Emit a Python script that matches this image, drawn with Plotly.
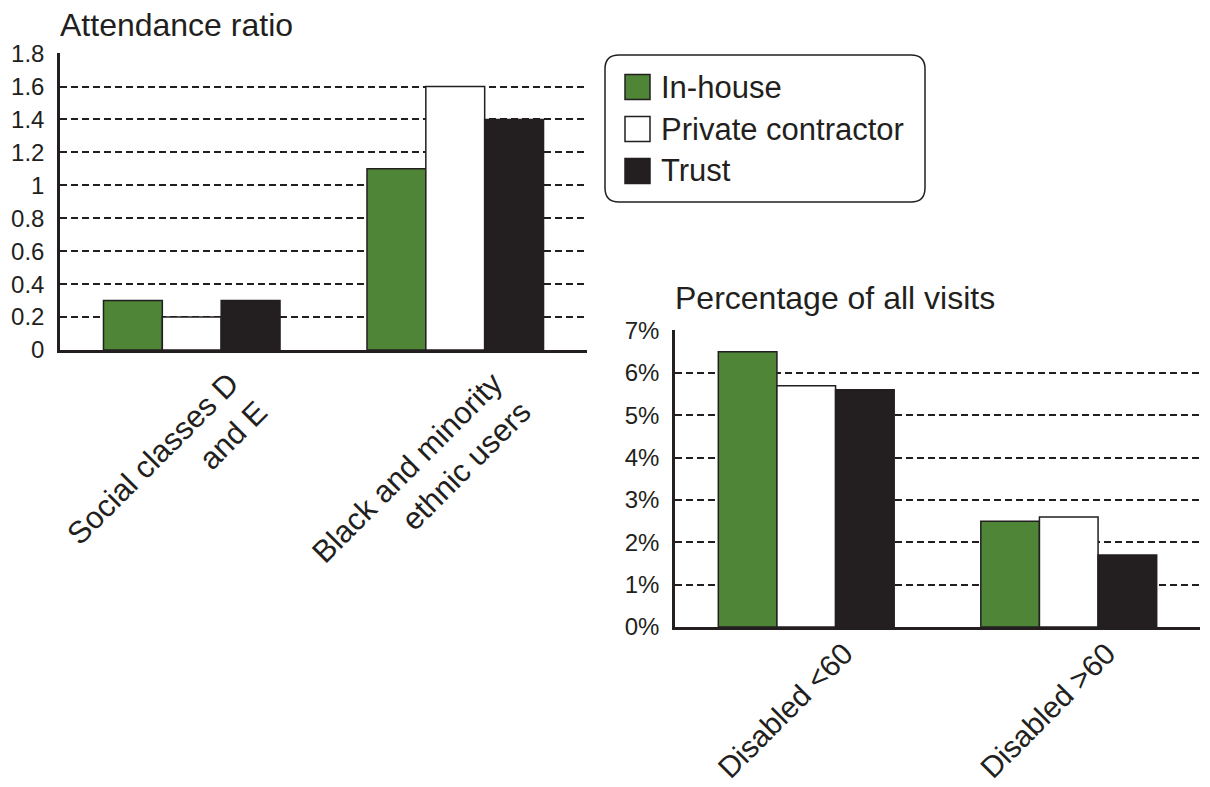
import plotly.graph_objects as go

W, H = 1210, 787

# ---- data ----
ratio_categories = ["Social classes D<br>and E", "Black and minority<br>ethnic users"]
visit_categories = ["Disabled <60", "Disabled >60"]
series_names = ["In-house", "Private contractor", "Trust"]

ratio_inhouse = [0.3, 1.1]
ratio_private = [0.2, 1.6]
ratio_trust = [0.3, 1.4]

visits_inhouse = [6.5, 2.5]
visits_private = [5.7, 2.6]
visits_trust = [5.6, 1.7]

ratio_tickvals = [0, 0.2, 0.4, 0.6, 0.8, 1.0, 1.2, 1.4, 1.6, 1.8]
ratio_ticktext = ["0", "0.2", "0.4", "0.6", "0.8", "1", "1.2", "1.4", "1.6", "1.8"]
visit_tickvals = [0, 1, 2, 3, 4, 5, 6, 7]
visit_ticktext = ["0%", "1%", "2%", "3%", "4%", "5%", "6%", "7%"]

# ---- style ----
INK = "#231f20"
FILLS = ["#4e8536", "#ffffff", INK]
FONT = "Liberation Sans"


def px_x(x):
    return x / W


def px_y(y):
    return 1 - y / H


fig = go.Figure()

ratio_series = [ratio_inhouse, ratio_private, ratio_trust]
visit_series = [visits_inhouse, visits_private, visits_trust]

for name, vals, fill in zip(series_names, ratio_series, FILLS):
    fig.add_trace(go.Bar(
        x=ratio_categories, y=vals, name=name, xaxis="x", yaxis="y",
        marker=dict(color=fill, line=dict(color=INK, width=1.5)),
        showlegend=False,
    ))

for name, vals, fill in zip(series_names, visit_series, FILLS):
    fig.add_trace(go.Bar(
        x=visit_categories, y=vals, name=name, xaxis="x2", yaxis="y2",
        marker=dict(color=fill, line=dict(color=INK, width=1.5)),
        showlegend=False,
    ))

grid_style = dict(showgrid=True, gridcolor=INK, gridwidth=1.5, griddash="7px,4px",
                  zeroline=False, showline=True, linecolor=INK, linewidth=2.5,
                  ticks="", ticklabelstandoff=8, automargin=False,
                  tickfont=dict(family=FONT, size=24, color=INK))
cat_style = dict(showgrid=False, zeroline=False, showline=True, linecolor=INK,
                 linewidth=3, ticks="", tickangle=-45, automargin=False,
                 ticklabelshift=38)

fig.update_layout(
    width=W, height=H,
    margin=dict(l=0, r=0, t=0, b=0, autoexpand=False),
    paper_bgcolor="white", plot_bgcolor="white",
    barmode="group", bargap=0.33, bargroupgap=0,
    xaxis=dict(domain=[px_x(60), px_x(587)], anchor="y",
               tickfont=dict(family=FONT, size=31, color=INK), **cat_style),
    yaxis=dict(domain=[px_y(350), px_y(53)], anchor="x", range=[0, 1.8 * 1.002],
               tickvals=ratio_tickvals, ticktext=ratio_ticktext, **grid_style),
    xaxis2=dict(domain=[px_x(675), px_x(1200)], anchor="y2", ticklabelstandoff=-6,
                tickfont=dict(family=FONT, size=30, color=INK), **cat_style),
    yaxis2=dict(domain=[px_y(627), px_y(330)], anchor="x2", range=[0, 7 * 1.002],
                tickvals=visit_tickvals, ticktext=visit_ticktext, **grid_style),
)

# panel titles
fig.add_annotation(text="Attendance ratio", xref="paper", yref="paper",
                   x=px_x(58), y=px_y(5), xanchor="left", yanchor="top",
                   showarrow=False, font=dict(family=FONT, size=32, color=INK))
fig.add_annotation(text="Percentage of all visits", xref="paper", yref="paper",
                   x=px_x(673), y=px_y(278), xanchor="left", yanchor="top",
                   showarrow=False, font=dict(family=FONT, size=32, color=INK))

# legend: rounded frame, swatches and labels
x0, x1, y0, y1, r = 605, 925, 55, 202, 14
path = (f"M {px_x(x0 + r)},{px_y(y0)} L {px_x(x1 - r)},{px_y(y0)} "
        f"Q {px_x(x1)},{px_y(y0)} {px_x(x1)},{px_y(y0 + r)} "
        f"L {px_x(x1)},{px_y(y1 - r)} Q {px_x(x1)},{px_y(y1)} {px_x(x1 - r)},{px_y(y1)} "
        f"L {px_x(x0 + r)},{px_y(y1)} Q {px_x(x0)},{px_y(y1)} {px_x(x0)},{px_y(y1 - r)} "
        f"L {px_x(x0)},{px_y(y0 + r)} Q {px_x(x0)},{px_y(y0)} {px_x(x0 + r)},{px_y(y0)} Z")
fig.add_shape(type="path", path=path, xref="paper", yref="paper",
              line=dict(color=INK, width=1.5), fillcolor="rgba(0,0,0,0)")

row_centres = [87, 129, 171]
sw = 25
for name, fill, cy in zip(series_names, FILLS, row_centres):
    fig.add_shape(type="rect", xref="paper", yref="paper",
                  x0=px_x(625), x1=px_x(625 + sw),
                  y0=px_y(cy + sw / 2), y1=px_y(cy - sw / 2),
                  fillcolor=fill, line=dict(color=INK, width=1.5))
    fig.add_annotation(text=name, xref="paper", yref="paper",
                       x=px_x(659), y=px_y(cy), xanchor="left", yanchor="middle",
                       showarrow=False, font=dict(family=FONT, size=31, color=INK))

fig.write_html("out.html")
